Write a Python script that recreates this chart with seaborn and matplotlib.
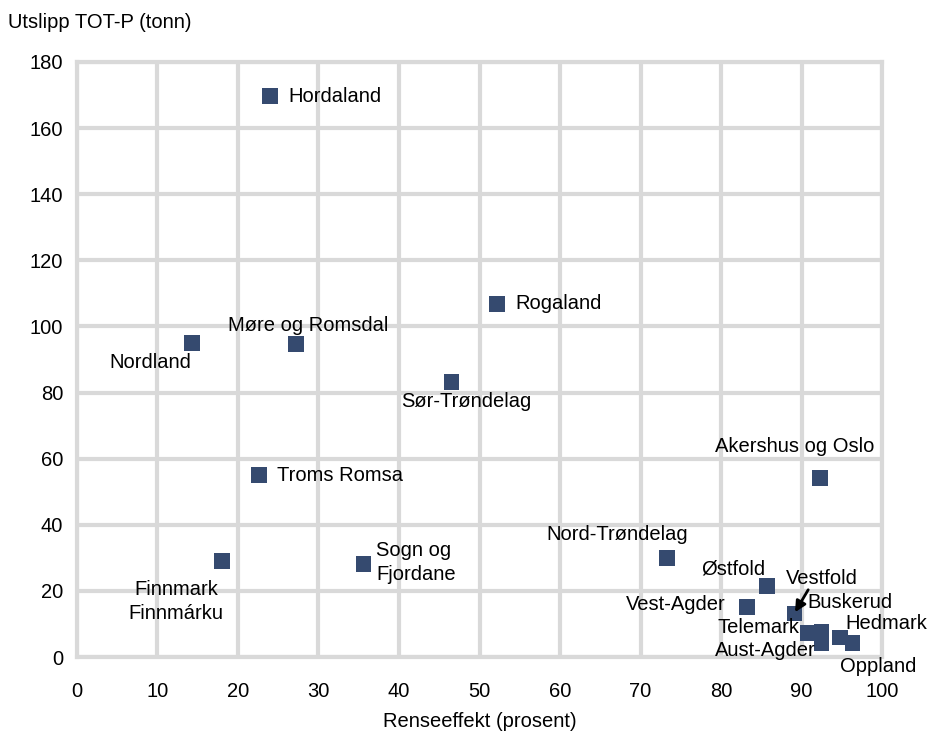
import seaborn as sns
import matplotlib.pyplot as plt
import pandas as pd

# county data: cleaning efficiency (%) vs. TOT-P discharge (tonnes)
fylke = ['Hordaland', 'Rogaland', 'Nordland', 'Møre og Romsdal', 'Sør-Trøndelag',
         'Akershus og Oslo', 'Troms Romsa', 'Finnmark\nFinnmárku', 'Sogn og\nFjordane',
         'Nord-Trøndelag', 'Østfold', 'Vest-Agder', 'Vestfold', 'Buskerud',
         'Telemark', 'Aust-Agder', 'Hedmark', 'Oppland']
renseeffekt = [24.0, 52.2, 14.3, 27.2, 46.5, 92.3, 22.6, 18.0, 35.6,
               73.3, 85.7, 83.2, 89.1, 92.5, 90.8, 92.5, 94.8, 96.3]
utslipp = [169.7, 106.8, 95.0, 94.7, 83.2, 54.1, 55.0, 29.0, 28.1,
           30.0, 21.5, 15.1, 13.2, 7.6, 7.3, 4.2, 5.9, 4.2]

# label offsets in points (dx, dy, ha)
offsets = {
    'Hordaland': (13, 0, 'left'),
    'Rogaland': (13, 0, 'left'),
    'Nordland': (-30, -14, 'center'),
    'Møre og Romsdal': (9, 13, 'center'),
    'Sør-Trøndelag': (11, -14, 'center'),
    'Akershus og Oslo': (-18, 23, 'center'),
    'Troms Romsa': (13, 0, 'left'),
    'Finnmark\nFinnmárku': (-33, -29, 'center'),
    'Sogn og\nFjordane': (9, 1, 'left'),
    'Nord-Trøndelag': (-36, 17, 'center'),
    'Østfold': (-1, 12, 'right'),
    'Vest-Agder': (-15, 2, 'right'),
    'Vestfold': (-6, 25, 'left'),
    'Buskerud': (-10, 21, 'left'),
    'Telemark': (-6, 4, 'right'),
    'Aust-Agder': (-4, -5, 'right'),
    'Hedmark': (4, 10, 'left'),
    'Oppland': (19, -17, 'center'),
}

df = pd.DataFrame({'fylke': fylke, 'x': renseeffekt, 'y': utslipp})

sns.set_style('white')
plt.rcParams['font.family'] = ['Liberation Sans', 'DejaVu Sans']
plt.rcParams['text.color'] = 'black'
plt.rcParams['axes.labelcolor'] = 'black'
plt.rcParams['xtick.color'] = 'black'
plt.rcParams['ytick.color'] = 'black'

fs = 14.5

fig = plt.figure(figsize=(9.34, 7.36), dpi=100)
ax = fig.add_axes([0.0824, 0.1073, 0.8620, 0.8085])

sns.scatterplot(data=df, x='x', y='y', marker='s', s=125, color='#354a6f',
                edgecolor='none', ax=ax, zorder=3, clip_on=False)

ax.set_xlim(0, 100)
ax.set_ylim(0, 180)
ax.set_xticks(range(0, 101, 10))
ax.set_yticks(range(0, 181, 20))
ax.grid(True, color='#d9d9d9', linewidth=3)
ax.set_axisbelow(True)
for sp in ax.spines.values():
    sp.set_color('#d9d9d9')
    sp.set_linewidth(3)
ax.tick_params(length=0, labelsize=fs, pad=10)
ax.tick_params(axis='x', pad=18)
ax.set_xlabel('Renseeffekt (prosent)', fontsize=fs, labelpad=8)
ax.set_ylabel('')
fig.text(0.009, 0.97, 'Utslipp TOT-P (tonn)', fontsize=fs, va='center', ha='left')

for name, xv, yv in zip(fylke, renseeffekt, utslipp):
    dx, dy, ha = offsets[name]
    ax.annotate(name, (xv, yv), xytext=(dx, dy), textcoords='offset points',
                ha=ha, va='center', fontsize=fs, linespacing=1.3, zorder=4)

# arrow from Vestfold label to its marker
ax.annotate('', xy=(89.1, 13.2), xytext=(10, 17), textcoords='offset points',
            arrowprops=dict(arrowstyle='-|>', color='black', lw=2,
                            shrinkA=0, shrinkB=1, mutation_scale=16), zorder=5)

fig.savefig('out.png', dpi=100)
